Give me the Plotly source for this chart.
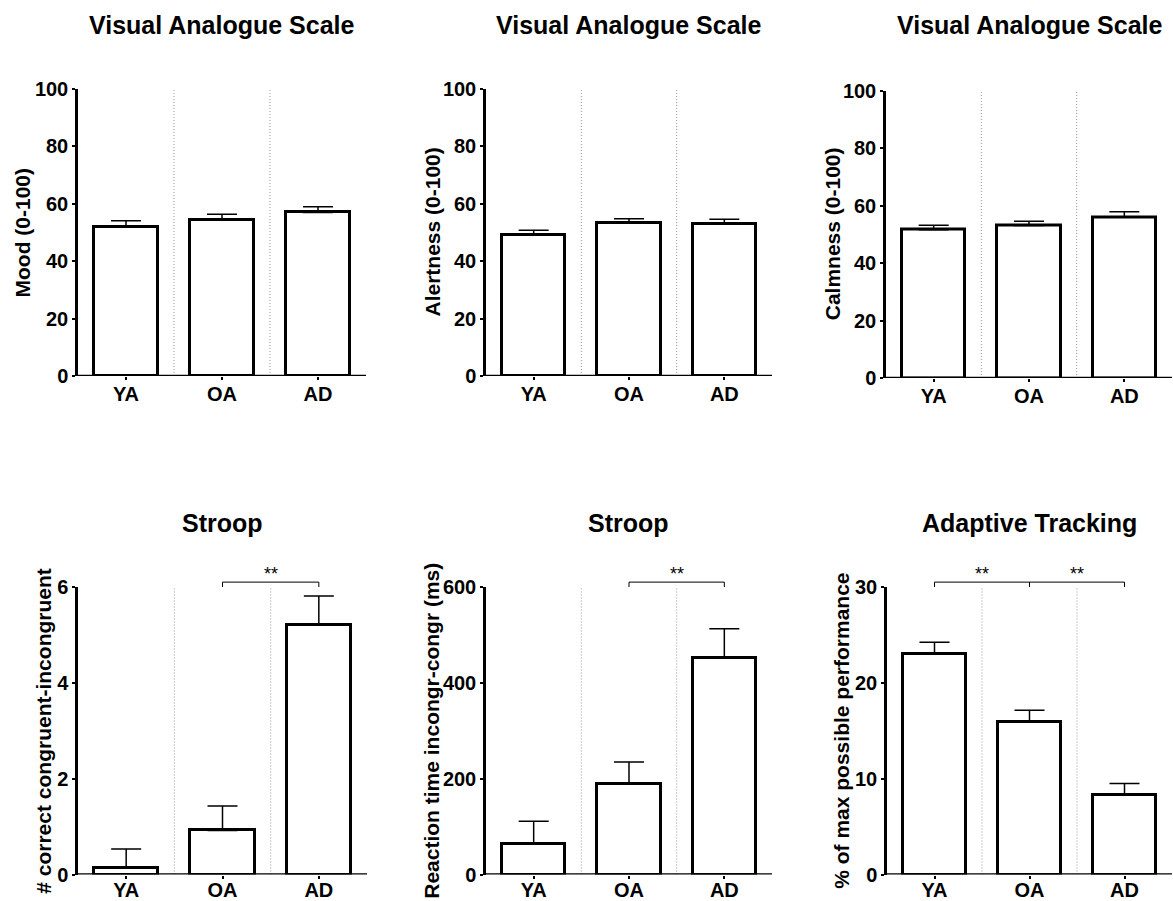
import plotly.graph_objects as go

# Groups
groups = ["YA", "OA", "AD"]

# Visual analogue scale ratings (mean, SEM)
mood = [51.9, 54.5, 57.0]
mood_err = [2.2, 1.9, 2.0]
alertness = [49.1, 53.3, 52.9]
alertness_err = [1.7, 1.5, 1.7]
calmness = [51.6, 53.0, 56.0]
calmness_err = [1.5, 1.5, 1.8]

# Stroop and adaptive tracking (mean, SEM)
stroop_correct = [0.13, 0.92, 5.21]
stroop_correct_err = [0.40, 0.51, 0.60]
stroop_rt = [64.7, 188.4, 451.9]
stroop_rt_err = [46.3, 46.6, 61.1]
tracking = [22.98, 15.92, 8.27]
tracking_err = [1.25, 1.22, 1.22]

W, H = 1173, 901
FONT = "Liberation Sans, Arial, Helvetica, sans-serif"

panels = [
    dict(title="Visual Analogue Scale", ytitle="Mood (0-100)", y=mood, e=mood_err,
         ymax=100, dtick=20, px=(78, 366), py=(89, 376), tx=22, brackets=[]),
    dict(title="Visual Analogue Scale", ytitle="Alertness (0-100)", y=alertness, e=alertness_err,
         ymax=100, dtick=20, px=(486, 772), py=(89, 376), tx=432, brackets=[]),
    dict(title="Visual Analogue Scale", ytitle="Calmness (0-100)", y=calmness, e=calmness_err,
         ymax=100, dtick=20, px=(886, 1172), py=(90.5, 378), tx=832, brackets=[]),
    dict(title="Stroop", ytitle="# correct congruent-incongruent", y=stroop_correct, e=stroop_correct_err,
         ymax=6, dtick=2, px=(78, 367), py=(587, 874.5), tx=44, brackets=[(1, 2)]),
    dict(title="Stroop", ytitle="Reaction time incongr-congr (ms)", y=stroop_rt, e=stroop_rt_err,
         ymax=600, dtick=200, px=(486, 772), py=(587, 874.5), tx=432, brackets=[(1, 2)]),
    dict(title="Adaptive Tracking", ytitle="% of max possible performance", y=tracking, e=tracking_err,
         ymax=30, dtick=10, px=(887, 1172), py=(587, 874.5), tx=842, brackets=[(0, 1), (1, 2)]),
]

XRANGE = [-0.5, 2.5]


def xfrac(v):
    return (v - XRANGE[0]) / (XRANGE[1] - XRANGE[0])


fig = go.Figure()
shapes = []
annotations = []

for i, p in enumerate(panels, start=1):
    xa = "x" if i == 1 else f"x{i}"
    ya = "y" if i == 1 else f"y{i}"
    xdom = [p["px"][0] / W, p["px"][1] / W]
    ydom = [1 - p["py"][1] / H, 1 - p["py"][0] / H]

    fig.add_trace(go.Bar(
        x=list(range(len(groups))), y=p["y"], xaxis=xa, yaxis=ya,
        width=0.667,
        marker=dict(color="white", line=dict(color="black", width=3)),
        error_y=dict(type="data", symmetric=False, array=p["e"],
                     arrayminus=[0] * len(groups),
                     color="black", thickness=1.5, width=15),
        showlegend=False, hoverinfo="skip",
    ))

    axis_common = dict(linecolor="black", linewidth=2.5, automargin=False,
                       showgrid=False, zeroline=False, ticks="outside",
                       tickcolor="black", tickwidth=2, ticklen=3,
                       tickfont=dict(family=FONT, size=20, color="black", weight="bold"))
    fig.update_layout({
        ("xaxis" if i == 1 else f"xaxis{i}"): dict(
            domain=xdom, anchor=ya, range=XRANGE, showline=False,
            ticklabelstandoff=-3 if i <= 3 else -6,
            tickvals=list(range(len(groups))), ticktext=groups, **axis_common),
        ("yaxis" if i == 1 else f"yaxis{i}"): dict(
            domain=ydom, anchor=xa, range=[0, p["ymax"]], dtick=p["dtick"],
            tick0=0, showline=True, **axis_common),
    })

    # baseline drawn on y = 0 so the bar bottoms sit on the axis
    shapes.append(dict(type="line", xref=f"{xa} domain", yref=ya, x0=-0.004, x1=1,
                       y0=0, y1=0, layer="above",
                       line=dict(color="black", width=2.5)))

    # dotted separators between groups
    for sep in [0.5, 1.5]:
        shapes.append(dict(type="line", xref=xa, yref=ya, x0=sep, x1=sep,
                           y0=0, y1=p["ymax"], layer="below",
                           line=dict(color="#999999", width=1, dash="1px,2px")))

    # panel title
    annotations.append(dict(text=f"<b>{p['title']}</b>", xref="paper", yref="paper",
                            x=(xdom[0] + xdom[1]) / 2, y=1 - (25 if i <= 3 else 523) / H,
                            showarrow=False, xanchor="center", yanchor="middle",
                            font=dict(family=FONT, size=25, color="black")))
    # y-axis title
    annotations.append(dict(text=f"<b>{p['ytitle']}</b>", xref="paper", yref="paper",
                            x=p["tx"] / W, y=(ydom[0] + ydom[1]) / 2, textangle=-90,
                            showarrow=False, xanchor="center", yanchor="middle",
                            font=dict(family=FONT, size=21, color="black")))

    # significance brackets
    xd = f"{xa} domain"
    yd = f"{ya} domain"
    for a, b in p["brackets"]:
        x0, x1 = xfrac(a), xfrac(b)
        ytop, ybot = 1.017, 1.0
        shapes.append(dict(type="path", xref=xd, yref=yd,
                           path=f"M {x0},{ybot} L {x0},{ytop} L {x1},{ytop} L {x1},{ybot}",
                           line=dict(color="black", width=1)))
        annotations.append(dict(text="**", xref=xd, yref=yd,
                                x=(x0 + x1) / 2, y=1.045, showarrow=False,
                                xanchor="center", yanchor="middle",
                                font=dict(family=FONT, size=18, color="black")))

fig.update_layout(
    width=W, height=H, margin=dict(l=0, r=0, t=0, b=0, autoexpand=False),
    paper_bgcolor="white", plot_bgcolor="white",
    bargap=0, shapes=shapes, annotations=annotations,
    font=dict(family=FONT, color="black"),
)

fig.write_html("out.html")
